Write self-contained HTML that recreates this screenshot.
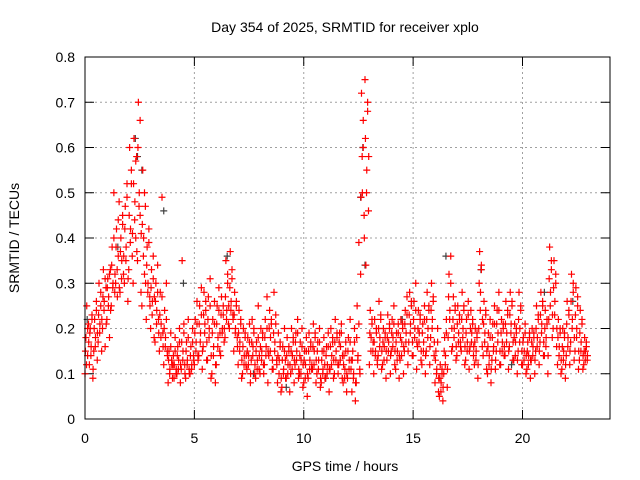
<!DOCTYPE html>
<html><head><meta charset="utf-8"><style>
html,body{margin:0;padding:0;background:#fff;}
svg{display:block;font-family:"Liberation Sans",sans-serif;}
</style></head><body>
<svg id="chart" width="640" height="480" viewBox="0 0 640 480">
<text x="345" y="32" font-size="14" text-anchor="middle">Day 354 of 2025, SRMTID for receiver xplo</text>
<text x="345" y="471" font-size="14" text-anchor="middle">GPS time / hours</text>
<text x="19" y="238" font-size="14" text-anchor="middle" transform="rotate(-90 19 238)">SRMTID / TECUs</text>
<g id="grid"></g>
<g id="axes"></g>
<g id="marks"></g>
<rect x="85" y="57" width="525" height="362" fill="none" stroke="#000" stroke-width="1"/>
</svg>
<script>
const xTicks=[0,5,10,15,20];
const yTicks=[0,0.1,0.2,0.3,0.4,0.5,0.6,0.7,0.8];
const yTickLabels=["0","0.1","0.2","0.3","0.4","0.5","0.6","0.7","0.8"];
const bucketStart=0, bucketStep=0.2, subStep=0.04, subStep2=0.05, subOffset2=0.02;
const redValues=[
[.10,.18,.25,.14,.21],[.12,.20,.16,.23,.09],[.15,.22,.18,.26,.13],[.17,.30,.21,.25,.15],[.20,.33,.26,.16,.29],
[.22,.31,.27,.18,.33],[.25,.38,.30,.50,.28],[.30,.42,.27,.36,.48],[.28,.40,.35,.45,.32],[.30,.47,.38,.52,.26],
[.33,.60,.42,.55,.36],[.30,.62,.48,.40,.58],[.35,.70,.50,.45,.28],[.25,.55,.40,.32,.47],[.22,.38,.30,.42,.27],
[.20,.33,.26,.36,.18],[.17,.30,.24,.34,.22],[.15,.28,.21,.49,.19],[.12,.24,.18,.30,.15],[.08,.15,.11,.19,.13],
[.09,.14,.12,.18,.10],[.10,.16,.13,.20,.08],[.11,.35,.15,.19,.12],[.09,.17,.13,.22,.11],[.10,.16,.12,.20,.14],
[.12,.22,.17,.26,.14],[.14,.25,.19,.29,.11],[.16,.28,.21,.24,.13],[.13,.27,.20,.31,.09],[.10,.22,.16,.26,.08],
[.12,.25,.18,.29,.15],[.14,.27,.20,.23,.17],[.18,.35,.24,.30,.21],[.20,.37,.26,.31,.23],[.15,.28,.20,.25,.18],
[.12,.24,.17,.22,.09],[.10,.20,.14,.18,.12],[.11,.18,.14,.21,.08],[.13,.22,.16,.19,.10],[.09,.17,.13,.25,.11],
[.10,.20,.15,.18,.12],[.12,.22,.16,.27,.08],[.14,.24,.18,.21,.11],[.11,.28,.17,.23,.13],[.08,.19,.13,.16,.06],
[.07,.16,.11,.20,.13],[.09,.18,.12,.15,.06],[.10,.20,.14,.17,.08],[.12,.19,.15,.22,.09],[.10,.17,.13,.20,.07],
[.08,.15,.12,.18,.05],[.09,.19,.13,.16,.11],[.11,.21,.15,.18,.08],[.10,.17,.13,.20,.07],[.08,.15,.11,.18,.12],
[.09,.16,.12,.19,.06],[.11,.20,.14,.17,.09],[.10,.22,.15,.18,.12],[.12,.19,.16,.21,.09],[.08,.14,.11,.17,.06],
[.09,.18,.13,.22,.11],[.06,.15,.10,.20,.04],[.08,.25,.14,.39,.11],[.32,.72,.50,.60,.45],[.75,.34,.55,.70,.46],
[.12,.24,.18,.21,.15],[.10,.22,.15,.19,.13],[.14,.26,.18,.23,.11],[.12,.20,.16,.18,.09],[.13,.23,.17,.20,.10],
[.15,.22,.18,.25,.12],[.11,.19,.15,.21,.09],[.13,.22,.17,.20,.10],[.15,.24,.19,.27,.12],[.17,.28,.21,.25,.14],
[.14,.26,.20,.30,.11],[.16,.24,.19,.22,.13],[.12,.21,.17,.25,.10],[.15,.28,.20,.24,.12],[.18,.30,.22,.26,.14],
[.08,.15,.11,.20,.06],[.05,.12,.08,.10,.04],[.10,.18,.14,.22,.07],[.18,.32,.24,.36,.15],[.16,.27,.20,.24,.13],
[.14,.25,.19,.22,.17],[.15,.28,.20,.24,.12],[.13,.22,.17,.26,.11],[.16,.24,.19,.21,.14],[.12,.20,.15,.18,.09],
[.20,.37,.28,.33,.16],[.14,.26,.19,.23,.11],[.10,.19,.14,.22,.08],[.13,.21,.16,.25,.11],[.15,.24,.19,.28,.12],
[.12,.22,.17,.20,.14],[.14,.26,.19,.23,.11],[.16,.28,.21,.25,.13],[.13,.21,.17,.19,.10],[.15,.28,.20,.24,.12],
[.12,.18,.15,.21,.10],[.11,.17,.14,.19,.09],[.13,.20,.16,.18,.10],[.15,.25,.18,.22,.12],[.17,.28,.21,.26,.14],
[.14,.24,.18,.21,.10],[.22,.38,.28,.33,.18],[.20,.35,.26,.30,.16],[.12,.22,.16,.19,.10],[.11,.20,.15,.18,.09],
[.14,.26,.18,.23,.12],[.17,.32,.22,.28,.13],[.15,.29,.20,.25,.11],[.13,.24,.17,.21,.11],[.12,.18,.15,.16,.13]
];
const redValues2=[
[.15,.12,.20,.17],[.19,.14,.22,.11],[.20,.16,.24,.19],[.23,.19,.28,.22],[.27,.24,.31,.21],
[.29,.25,.32,.24],[.34,.29,.40,.32],[.38,.33,.44,.29],[.37,.31,.43,.36],[.42,.35,.49,.31],
[.45,.39,.52,.41],[.52,.44,.57,.37],[.60,.47,.66,.41],[.43,.36,.50,.30],[.34,.28,.39,.25],
[.29,.23,.31,.27],[.26,.21,.28,.19],[.23,.18,.27,.16],[.20,.16,.22,.14],[.13,.10,.16,.12],
[.12,.09,.15,.11],[.14,.11,.17,.12],[.17,.13,.21,.10],[.15,.12,.18,.10],[.14,.11,.17,.13],
[.19,.15,.21,.13],[.21,.17,.23,.15],[.23,.19,.26,.17],[.22,.18,.25,.14],[.19,.14,.21,.12],
[.21,.16,.24,.19],[.23,.19,.25,.20],[.27,.22,.32,.25],[.29,.24,.33,.22],[.23,.19,.26,.16],
[.19,.15,.21,.13],[.16,.12,.19,.14],[.15,.12,.17,.10],[.17,.14,.20,.12],[.15,.11,.18,.14],
[.16,.13,.19,.10],[.18,.14,.20,.15],[.20,.15,.22,.13],[.19,.15,.21,.12],[.14,.10,.17,.09],
[.13,.10,.15,.09],[.14,.10,.16,.12],[.15,.11,.18,.13],[.17,.13,.19,.11],[.14,.10,.16,.12],
[.13,.09,.15,.10],[.15,.11,.17,.12],[.16,.12,.19,.13],[.15,.11,.17,.09],[.13,.10,.15,.09],
[.14,.10,.16,.11],[.16,.12,.18,.13],[.17,.13,.19,.10],[.17,.13,.19,.14],[.12,.09,.15,.10],
[.15,.11,.17,.13],[.13,.09,.17,.08],[.18,.13,.21,.10],[.49,.58,.66,.40],[.62,.50,.68,.58],
[.19,.15,.22,.17],[.17,.14,.20,.12],[.20,.16,.22,.15],[.17,.13,.19,.15],[.18,.15,.21,.14],
[.19,.16,.21,.15],[.17,.13,.19,.14],[.18,.14,.21,.16],[.21,.17,.23,.15],[.23,.19,.26,.17],
[.22,.18,.24,.17],[.20,.17,.23,.15],[.19,.15,.22,.14],[.22,.18,.25,.16],[.24,.20,.27,.17],
[.13,.10,.17,.09],[.09,.06,.11,.07],[.15,.12,.19,.11],[.27,.22,.30,.20],[.22,.18,.25,.16],
[.21,.17,.23,.16],[.22,.18,.25,.16],[.19,.15,.23,.15],[.20,.17,.22,.16],[.17,.13,.19,.12],
[.30,.24,.34,.22],[.21,.17,.24,.15],[.16,.12,.18,.11],[.18,.15,.21,.13],[.21,.17,.24,.15],
[.19,.15,.21,.16],[.21,.17,.24,.15],[.23,.19,.26,.17],[.18,.14,.20,.13],[.22,.17,.25,.15],
[.17,.13,.19,.14],[.15,.12,.18,.13],[.17,.14,.19,.13],[.20,.16,.23,.15],[.23,.19,.25,.17],
[.20,.16,.22,.14],[.31,.25,.35,.23],[.29,.23,.32,.20],[.18,.14,.20,.13],[.16,.13,.19,.12],
[.21,.16,.24,.15],[.26,.20,.30,.18],[.23,.18,.27,.15],[.19,.15,.22,.14],[.15,.13,.17,.14]
];
const grayTimes=[0.1,1.5,2.3,2.4,2.6,3.6,4.5,6.5,7.7,9.2,11.0,12.6,12.7,12.8,14.5,16.5,18.1,19.5,21.0,22.3];
const grayValues=[0.22,0.38,0.62,0.58,0.55,0.46,0.30,0.36,0.10,0.07,0.09,0.49,0.60,0.34,0.22,0.36,0.33,0.12,0.28,0.26];

const X0=85,X1=610,Y0=419,Y1=57,xMin=0,xMax=24,yMin=0,yMax=0.8;
function xs(t){return X0+(t-xMin)/(xMax-xMin)*(X1-X0);}
function ys(v){return Y0-(v-yMin)/(yMax-yMin)*(Y0-Y1);}
const NS="http://www.w3.org/2000/svg";
const grid=document.getElementById('grid'),axes=document.getElementById('axes'),marks=document.getElementById('marks');
function mk(tag,attrs,parent){const e=document.createElementNS(NS,tag);for(const k in attrs)e.setAttribute(k,attrs[k]);parent.appendChild(e);return e;}

yTicks.forEach((v,i)=>{
  const y=ys(v);
  if(i>0&&i<yTicks.length-1){const g=mk('line',{x1:X0,x2:X1,y1:y,y2:y,stroke:'#a0a0a0','stroke-dasharray':'2,3'},grid);
  
  }
  mk('line',{x1:X0,x2:X0+9,y1:y,y2:y,stroke:'#000'},axes);
  mk('line',{x1:X1-9,x2:X1,y1:y,y2:y,stroke:'#000'},axes);
  const t=mk('text',{x:X0-10,y:y+5,'font-size':14,'text-anchor':'end'},axes);
  t.textContent=yTickLabels[i];
  
  
});
xTicks.forEach(v=>{
  const x=xs(v);
  if(v>0){const g=mk('line',{x1:x,x2:x,y1:Y0,y2:Y1,stroke:'#a0a0a0','stroke-dasharray':'2,3'},grid);
  
  }
  mk('line',{x1:x,x2:x,y1:Y0,y2:Y0-9,stroke:'#000'},axes);
  mk('line',{x1:x,x2:x,y1:Y1,y2:Y1+9,stroke:'#000'},axes);
  const t=mk('text',{x:x,y:Y0+24,'font-size':14,'text-anchor':'middle'},axes);
  t.textContent=String(v);
  
  
});
function plus(t,v,color,name){
  const x=xs(t),y=ys(v);
  const p=mk('path',{d:`M${x-3.5},${y}h7M${x},${y-3.5}v7`,stroke:color,'stroke-width':1.2,fill:'none'},marks);
  
  
}
grayTimes.forEach((t,i)=>plus(t,grayValues[i],'#404040','gray-point'));
redValues.forEach((arr,b)=>{
  const t0=bucketStart+b*bucketStep;
  arr.forEach((v,j)=>plus(t0+j*subStep,v,'#ff0000','red-point'));
});
redValues2.forEach((arr,b)=>{
  const t0=bucketStart+b*bucketStep+subOffset2;
  arr.forEach((v,j)=>plus(t0+j*subStep2,v,'#ff0000','red-point'));
});
</script>
</body></html>
